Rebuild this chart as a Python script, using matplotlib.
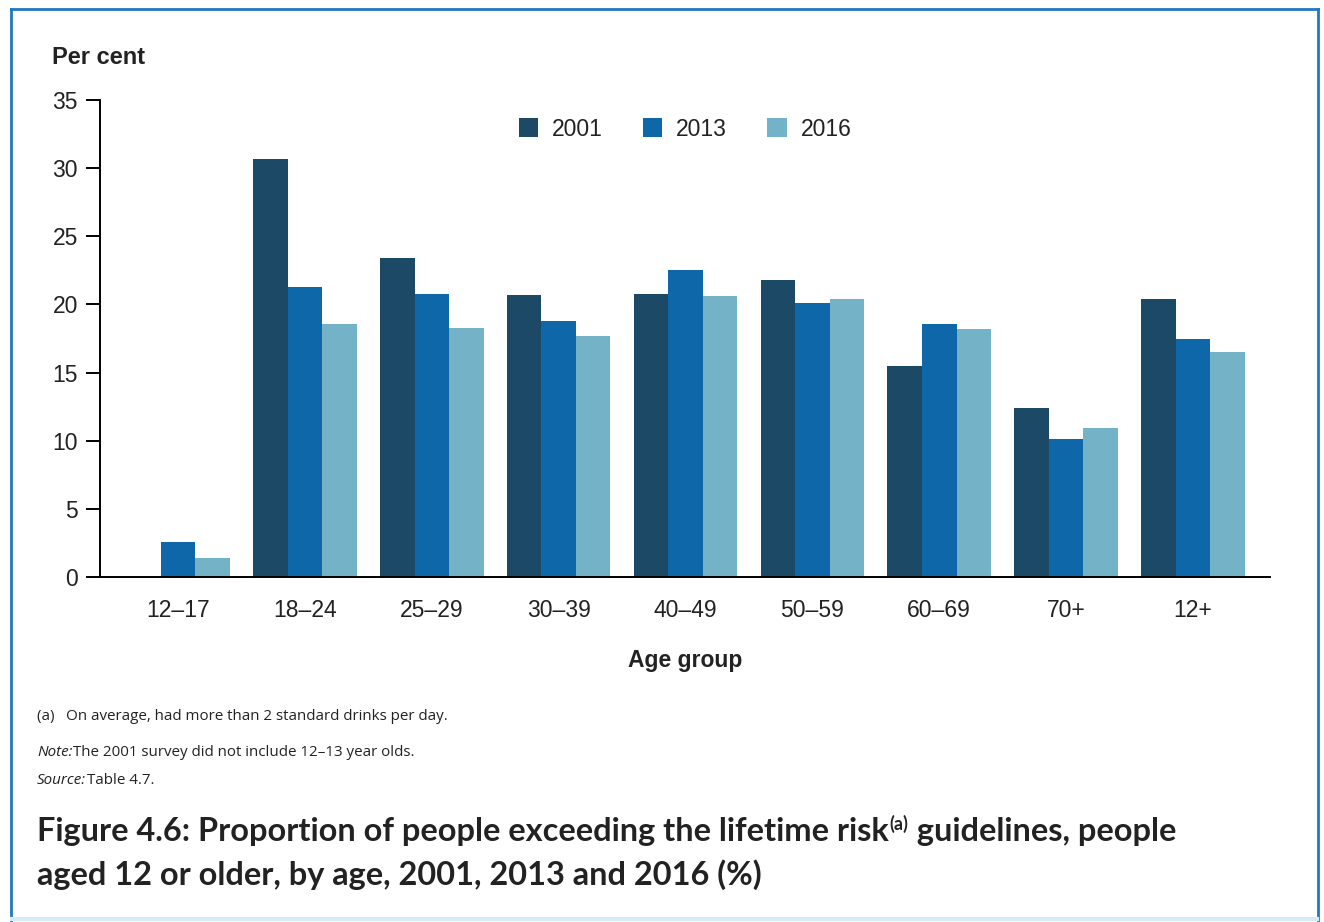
import matplotlib.pyplot as plt
import numpy as np
from matplotlib.lines import Line2D

plt.rcParams["font.family"] = ["Liberation Sans", "DejaVu Sans"]

age_groups = ["12–17", "18–24", "25–29", "30–39", "40–49", "50–59", "60–69", "70+", "12+"]
years = ["2001", "2013", "2016"]
v2001 = [0.0, 30.7, 23.4, 20.7, 20.8, 21.8, 15.5, 12.4, 20.4]
v2013 = [2.6, 21.3, 20.8, 18.8, 22.5, 20.1, 18.6, 10.1, 17.5]
v2016 = [1.4, 18.6, 18.3, 17.7, 20.6, 20.4, 18.2, 10.9, 16.5]

COLORS = ["#1C4A66", "#0E67A8", "#74B2C7"]
W, H = 1324, 922

fig = plt.figure(figsize=(W / 100, H / 100), dpi=100)
ax = fig.add_axes([100 / W, 1 - 577 / H, 1170 / W, 477 / H])

x = np.arange(len(age_groups))
w = 0.272
for i, (vals, col, yr) in enumerate(zip([v2001, v2013, v2016], COLORS, years)):
    ax.bar(x + (i - 1) * w, vals, w, color=col, label=yr, linewidth=0)

ax.set_xlim(-0.615, 8.607)
ax.set_ylim(0, 35)
ax.set_yticks(range(0, 36, 5))
ax.set_xticks(x)
ax.set_xticklabels(age_groups)
ax.tick_params(axis="y", direction="out", length=10, width=1.4, labelsize=16.5, pad=6, labelcolor="#222222")
ax.tick_params(axis="x", length=0, labelsize=16.5, pad=16, labelcolor="#222222")
for s in ["top", "right"]:
    ax.spines[s].set_visible(False)
ax.spines["left"].set_linewidth(1.4)
ax.spines["bottom"].set_linewidth(1.4)

ax.set_xlabel("Age group", fontsize=16.5, fontweight="bold", labelpad=19, color="#222222")
fig.text(52 / W, 1 - 57 / H, "Per cent", fontsize=17, fontweight="bold", va="center", ha="left", color="#222222")

ax.legend(loc="center", bbox_to_anchor=(0.5, 1 - 29 / 477), ncol=3, frameon=False,
          fontsize=16.5, handlelength=0.85, handleheight=0.85, columnspacing=1.75, handletextpad=0.6,
          labelcolor="#222222")

fig.canvas.draw()
rend = fig.canvas.get_renderer()


def put(x_px, y_px, s, **kw):
    t = fig.text(x_px / W, 1 - y_px / H, s, ha="left", va="baseline", **kw)
    return x_px + t.get_window_extent(rend).width


# footnotes
fn = dict(family=["Open Sans", "DejaVu Sans"], fontsize=10.9, color="#222222")
put(37, 720, "(a)   On average, had more than 2 standard drinks per day.", **fn)
xx = put(37, 756, "Note:", style="italic", **fn)
put(xx + 1, 756, "The 2001 survey did not include 12–13 year olds.", **fn)
xx = put(37, 784, "Source:", style="italic", **fn)
put(xx + 1, 784, "Table 4.7.", **fn)

# title
tt = dict(family=["Lato", "DejaVu Sans"], fontweight="bold", color="#222222")
xx = put(37, 841, "Figure 4.6: Proportion of people exceeding the lifetime risk", fontsize=23.4, **tt)
xx = put(xx + 1, 830, "(a)", fontsize=13, **tt)
put(xx, 841, " guidelines, people", fontsize=23.4, **tt)
put(37, 885, "aged 12 or older, by age, 2001, 2013 and 2016 (%)", fontsize=23.4, **tt)

# border
bc = "#1E78C2"
for xs, ys in [([11, 11], [H, 9]), ([11, 1318], [9, 9]), ([1318, 1318], [9, H])]:
    fig.lines.append(Line2D([v / W for v in xs], [1 - v / H for v in ys], transform=fig.transFigure,
                            color=bc, linewidth=2))
fig.lines.append(Line2D([12 / W, 1317 / W], [1 - 919 / H] * 2, transform=fig.transFigure,
                        color="#D6EAF7", linewidth=3))

fig.savefig("out.png", dpi=100)
